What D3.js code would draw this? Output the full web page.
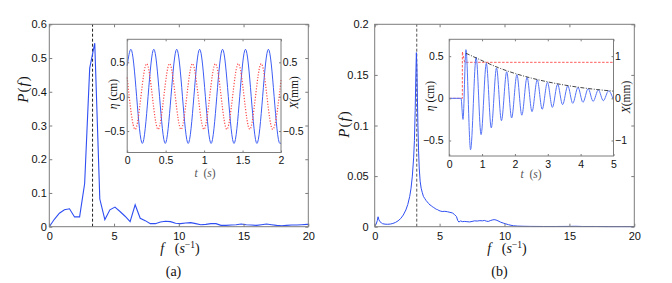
<!DOCTYPE html>
<html><head><meta charset="utf-8">
<script src="https://cdn.jsdelivr.net/npm/d3@7"></script>
<style>body{margin:0;background:#fff}svg{display:block}</style>
</head><body><svg id="c" width="672" height="283"></svg>
<script>
// ---------------- DATA ----------------
// Panel (a): power spectrum
const freqA = [0,0.39,0.78,1.17,1.56,1.95,2.34,2.73,3.12,3.51,3.9,4.29,4.68,5.07,5.46,5.85,6.24,6.63,7.02,7.41,7.8,8.19,8.58,8.97,9.36,9.75,10.14,10.53,10.92,11.31,11.7,12.09,12.48,12.87,13.26,13.65,14.04,14.43,14.82,15.21,15.6,15.99,16.38,16.77,17.16,17.55,17.94,18.33,18.72,19.11,19.5,19.89,20];
const powA  = [0,0.022,0.040,0.050,0.053,0.029,0.029,0.128,0.47,0.544,0.082,0.021,0.050,0.058,0.045,0.031,0.015,0.065,0.025,0.018,0.009,0.009,0.014,0.016,0.015,0.010,0.009,0.011,0.012,0.009,0.006,0.007,0.009,0.009,0.004,0.004,0.005,0.006,0.008,0.006,0.005,0.004,0.006,0.008,0.006,0.004,0.003,0.004,0.005,0.005,0.006,0.007,0.007];
const peakFreqA = 3.34;
// Panel (a) inset: eta (cm) and X (mm) vs t (s)
const tEtaA = [0,0.048,0.197,0.346,0.495,0.644,0.793,0.942,1.091,1.240,1.389,1.538,1.687,1.836,1.985,2.0];
const etaA  = [0.45,0.69,-0.68,0.69,-0.68,0.69,-0.68,0.69,-0.68,0.69,-0.68,0.69,-0.68,0.69,-0.68,-0.675];
const tXA   = [0,0.104,0.253,0.402,0.551,0.700,0.849,0.998,1.147,1.296,1.445,1.594,1.743,1.892,2.0];
const xA    = [0.28,-0.475,0.48,-0.475,0.48,-0.475,0.48,-0.475,0.48,-0.475,0.48,-0.475,0.48,-0.475,0.24];

// Panel (b): power spectrum
const freqB = [0,0.1,0.2,0.26,0.32,0.4,0.5,0.6,0.8,1.0,1.2,1.4,1.6,1.8,2.0,2.2,2.4,2.55,2.7,2.8,2.9,3.0,3.06,3.12,3.17,3.21,3.25,3.29,3.33,3.38,3.43,3.5,3.58,3.66,3.75,3.85,3.95,4.05,4.15,4.25,4.35,4.45,4.55,4.65,4.75,4.85,4.95,5.05,5.2,5.4,5.6,5.8,6.0,6.15,6.3,6.4,6.5,6.6,6.75,6.9,7.1,7.3,7.5,7.7,7.9,8.1,8.3,8.45,8.6,8.75,8.9,9.05,9.2,9.35,9.5,9.7,9.9,10.1,10.3,10.5,10.7,11.0,11.5,12,13,14,15,15.5,16,17,18,19,20];
const powB  = [0.001,0.002,0.006,0.0098,0.007,0.005,0.004,0.003,0.0025,0.0024,0.0026,0.0032,0.0042,0.0058,0.008,0.0115,0.0165,0.022,0.030,0.038,0.050,0.068,0.085,0.115,0.150,0.172,0.158,0.128,0.100,0.075,0.058,0.045,0.038,0.034,0.030,0.028,0.026,0.0245,0.023,0.0215,0.021,0.0195,0.019,0.018,0.0172,0.0168,0.016,0.0155,0.015,0.0152,0.0148,0.0142,0.0135,0.012,0.010,0.006,0.0045,0.0058,0.005,0.0052,0.005,0.0047,0.0052,0.0058,0.0056,0.006,0.0058,0.0062,0.0055,0.0052,0.006,0.0066,0.007,0.0066,0.0058,0.0045,0.0036,0.0028,0.002,0.0014,0.0009,0.0006,0.0004,0.0003,0.0002,0.0002,0.0003,0.0004,0.0002,0.0002,0.0001,0.0001,0.0001];
const peakFreqB = 3.24;
// Panel (b) inset
const tEtaB = [0,0.36,0.42,0.51,0.65,0.82,0.97,1.13,1.28,1.44,1.59,1.75,1.90,2.06,2.21,2.37,2.52,2.68,2.83,2.99,3.14,3.30,3.45,3.61,3.76,3.92,4.07,4.23,4.38,4.54,4.69,4.85,5.0];
const etaB  = [0,0,-0.25,0.577,-0.61,0.488,-0.43,0.415,-0.35,0.36,-0.265,0.315,-0.233,0.28,-0.20,0.25,-0.158,0.22,-0.13,0.19,-0.107,0.168,-0.075,0.148,-0.059,0.13,-0.047,0.115,-0.036,0.10,-0.028,0.088,-0.02];
const tXB   = [0,0.40,0.40,0.47,5.0];
const xB    = [0,0,1.105,0.854,0.854];
const tEnvB = [0.51,1,1.5,2,2.5,3,3.5,4,4.5,5];
const envB  = [0.535,0.447,0.363,0.295,0.24,0.195,0.158,0.128,0.104,0.085];

// tick values
const ticksF = [0,5,10,15,20];
const ticksPA = [0,0.1,0.2,0.3,0.4,0.5,0.6];
const ticksPB = [0,0.05,0.1,0.15,0.2];
const ticksTA = [0,0.5,1,1.5,2];
const ticksEtaA = [-0.5,0,0.5];
const ticksTB = [0,1,2,3,4,5];
const ticksEtaB = [-0.5,0,0.5];
const ticksXB = [-1,0,1];

// ---------------- DRAW ----------------
const svg = d3.select("#c");
const SANS = "'Liberation Sans', Arial, Helvetica, sans-serif";
const SERIF = "'Liberation Serif', 'Times New Roman', serif";
const FRAME = "#7c7c7c";
const fmt = d3.format("");

function axes(g, x, y, o) {
  const [x0, x1] = x.range(); const [yb, yt] = y.range();
  const style = sel => {
    sel.select(".domain").remove();
    sel.selectAll("line").attr("stroke", FRAME);
    sel.selectAll("text").attr("font-family", SANS).attr("font-size", o.fs).attr("fill", "#111");
  };
  g.append("g").attr("transform", `translate(0,${yb})`)
    .call(d3.axisBottom(x).tickValues(o.xt).tickSizeInner(-o.tl).tickSizeOuter(0).tickPadding(o.padB).tickFormat(fmt)).call(style);
  g.append("g").attr("transform", `translate(0,${yt})`)
    .call(d3.axisTop(x).tickValues(o.xt).tickSizeInner(-o.tl).tickSizeOuter(0).tickFormat("")).call(style);
  g.append("g").attr("transform", `translate(${x0},0)`)
    .call(d3.axisLeft(y).tickValues(o.yt).tickSizeInner(-o.tl).tickSizeOuter(0).tickPadding(o.padL).tickFormat(fmt)).call(style);
  if (o.yR) {
    g.append("g").attr("transform", `translate(${x1},0)`)
      .call(d3.axisRight(o.yR).tickValues(o.yRt).tickSizeInner(-o.tl).tickSizeOuter(0).tickPadding(o.padR).tickFormat(fmt)).call(style);
  } else {
    g.append("g").attr("transform", `translate(${x1},0)`)
      .call(d3.axisRight(y).tickValues(o.yt).tickSizeInner(-o.tl).tickSizeOuter(0).tickFormat("")).call(style);
  }
  g.append("rect").attr("x", x0).attr("y", yt).attr("width", x1 - x0).attr("height", yb - yt)
    .attr("fill", "none").attr("stroke", FRAME).attr("stroke-width", 1);
}

function line(g, x, y, xs, ys, curve) {
  return g.append("path")
    .attr("d", d3.line().x((d, i) => x(xs[i])).y(d => y(d)).curve(curve || d3.curveLinear)(ys))
    .attr("fill", "none");
}

function rotLabel(g, cx, cy, parts, fs) {
  const t = g.append("text").attr("transform", `translate(${cx},${cy}) rotate(-90)`)
    .attr("text-anchor", "middle").attr("dy", "0.35em")
    .attr("font-family", SERIF).attr("font-size", fs).attr("fill", "#111");
  parts.forEach(p => t.append("tspan").text(p[0]).attr("font-style", p[1] ? "italic" : "normal"));
  return t;
}
function fLabel(g, cx, by) {
  const t = g.append("text").attr("x", cx).attr("y", by).attr("text-anchor", "middle")
    .attr("font-family", SERIF).attr("font-size", 14).attr("fill", "#111");
  t.append("tspan").text("f").attr("font-style", "italic");
  t.append("tspan").text("\u00a0\u00a0\u00a0(");
  t.append("tspan").text("s").attr("font-style", "italic");
  t.append("tspan").text("−1").attr("font-size", 9.5).attr("dy", -5.5);
  t.append("tspan").text(")").attr("dy", 5.5);
}
function tLabel(g, cx, by) {
  const t = g.append("text").attr("x", cx).attr("y", by).attr("text-anchor", "middle")
    .attr("font-family", SERIF).attr("font-size", 11.5).attr("fill", "#555");
  t.append("tspan").text("t").attr("font-style", "italic");
  t.append("tspan").text("\u00a0\u00a0(");
  t.append("tspan").text("s").attr("font-style", "italic");
  t.append("tspan").text(")");
}

// ===== Panel (a) =====
const ga = svg.append("g");
const xa = d3.scaleLinear().domain([0, 20]).range([49.3, 308.3]);
const ya = d3.scaleLinear().domain([0, 0.6]).range([226.7, 24.3]);
ga.append("line").attr("x1", xa(peakFreqA)).attr("x2", xa(peakFreqA)).attr("y1", ya(0)).attr("y2", ya(0.6))
  .attr("stroke", "#222").attr("stroke-width", 1).attr("stroke-dasharray", "3,2");
line(ga, xa, ya, freqA, powA).attr("stroke", "#2f4ff2").attr("stroke-width", 1.1);
axes(ga, xa, ya, {xt: ticksF, yt: ticksPA, tl: 3, fs: 11, padB: 5.5, padL: 2.5});
rotLabel(ga, 22.5, 89, [["P", 1], ["(", 0], ["f", 1], [")", 0]], 15).attr("letter-spacing", 1);
fLabel(ga, 180, 253);
ga.append("text").attr("x", 173.5).attr("y", 276).attr("text-anchor", "middle")
  .attr("font-family", SERIF).attr("font-size", 14).attr("fill", "#111").text("(a)");

// inset (a)
const ia = svg.append("g");
const xia = d3.scaleLinear().domain([0, 2]).range([127.2, 281]);
const yia = d3.scaleLinear().domain([-0.812, 0.835]).range([152.5, 39.3]);
const yiaR = d3.scaleLinear().domain([-0.812, 0.835]).range([152.5, 39.3]);
ia.append("rect").attr("x", 127.2).attr("y", 39.3).attr("width", 281 - 127.2).attr("height", 152.5 - 39.3).attr("fill", "#fff");
line(ia, xia, yia, tEtaA, etaA, d3.curveMonotoneX).attr("stroke", "#3d5df5").attr("stroke-width", 1);
line(ia, xia, yiaR, tXA, xA, d3.curveMonotoneX).attr("stroke", "#ff4a4a").attr("stroke-width", 1.2)
  .attr("stroke-dasharray", "1.2,1.6");
axes(ia, xia, yia, {xt: ticksTA, yt: ticksEtaA, yR: yiaR, yRt: ticksEtaA, tl: 2, fs: 10.5, padB: 4.5, padL: 2.2, padR: 1.8});
rotLabel(ia, 113, 94, [["η", 1], [" (cm)", 0]], 11.5);
rotLabel(ia, 293.5, 92.5, [["X", 1], ["(mm)", 0]], 11.5);
tLabel(ia, 205, 177);

// ===== Panel (b) =====
const gb = svg.append("g");
const xb = d3.scaleLinear().domain([0, 20]).range([374.7, 634.3]);
const yb = d3.scaleLinear().domain([0, 0.2]).range([226.7, 24.3]);
gb.append("line").attr("x1", xb(peakFreqB)).attr("x2", xb(peakFreqB)).attr("y1", yb(0)).attr("y2", yb(0.2))
  .attr("stroke", "#555").attr("stroke-width", 1).attr("stroke-dasharray", "3,2");
line(gb, xb, yb, freqB, powB).attr("stroke", "#2f4ff2").attr("stroke-width", 1);
axes(gb, xb, yb, {xt: ticksF, yt: ticksPB, tl: 3, fs: 11, padB: 5.5, padL: 6});
rotLabel(gb, 343.5, 124, [["P", 1], ["(", 0], ["f", 1], [")", 0]], 15).attr("letter-spacing", 1);
fLabel(gb, 507, 253);
gb.append("text").attr("x", 499.5).attr("y", 276).attr("text-anchor", "middle")
  .attr("font-family", SERIF).attr("font-size", 14).attr("fill", "#111").text("(b)");

// inset (b)
const ib = svg.append("g");
const xib = d3.scaleLinear().domain([0, 5]).range([449.2, 613.5]);
const yib = d3.scaleLinear().domain([-0.684, 0.70]).range([156, 39.3]);
const yibR = d3.scaleLinear().domain([-1.368, 1.40]).range([156, 39.3]);
ib.append("rect").attr("x", 449.2).attr("y", 39.3).attr("width", 613.5 - 449.2).attr("height", 156 - 39.3).attr("fill", "#fff");
line(ib, xib, yibR, tXB, xB).attr("stroke", "#ff5a5a").attr("stroke-width", 1).attr("stroke-dasharray", "2.5,1.5");
line(ib, xib, yib, tEtaB, etaB, d3.curveMonotoneX).attr("stroke", "#5573f7").attr("stroke-width", 1);
line(ib, xib, yib, tEnvB, envB, d3.curveMonotoneX).attr("stroke", "#444").attr("stroke-width", 1)
  .attr("stroke-dasharray", "4,1.5,1,1.5");
axes(ib, xib, yib, {xt: ticksTB, yt: ticksEtaB, yR: yibR, yRt: ticksXB, tl: 2, fs: 10.5, padB: 4.5, padL: 5.5, padR: 1.5});
rotLabel(ib, 429.5, 96, [["η", 1], [" (cm)", 0]], 11.5);
rotLabel(ib, 625.5, 97, [["X", 1], ["(mm)", 0]], 11.5);
tLabel(ib, 531, 178);
</script></body></html>
